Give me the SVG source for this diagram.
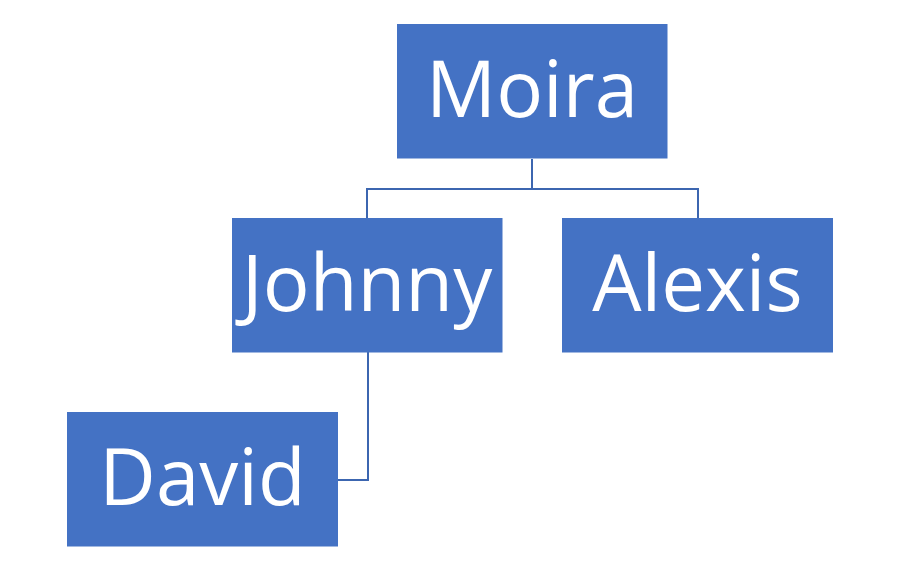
<svg xmlns="http://www.w3.org/2000/svg" width="900" height="587" viewBox="0 0 900 587">
<style>
.box{fill:#4472C4}
.lbl{font-family:"Open Sans","Liberation Sans",sans-serif;font-size:78px;fill:#FFFFFF;text-anchor:middle}
.conn{fill:none;stroke:#3C66B0;stroke-width:2}
</style>
<rect width="900" height="587" fill="#FFFFFF"/>
<g id="connectors">
<path class="conn" d="M532,159 V189 H367 V218"/>
<path class="conn" d="M532,189 H698 V218"/>
<path class="conn" d="M368,352 V480 H338"/>
</g>
<g id="moira"><rect class="box" x="397" y="24" width="270.5" height="134.5"/><text class="lbl" x="532" y="116.7">Moira</text></g>
<g id="johnny"><rect class="box" x="232" y="218" width="270.5" height="134.5"/><text class="lbl" x="367" y="310.7">Johnny</text></g>
<g id="alexis"><rect class="box" x="562" y="218" width="271" height="134.5"/><text class="lbl" x="697.5" y="310.7">Alexis</text></g>
<g id="david"><rect class="box" x="67" y="412" width="271" height="134.5"/><text class="lbl" x="202.5" y="504.7">David</text></g>
</svg>
